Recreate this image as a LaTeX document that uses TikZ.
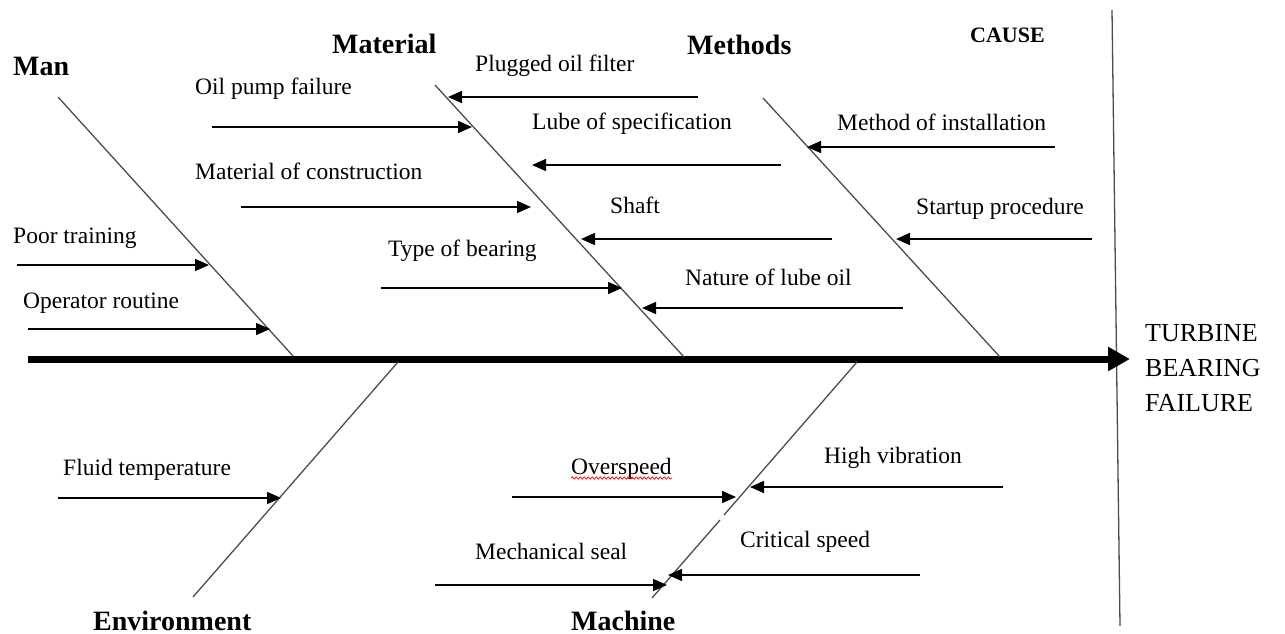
\documentclass[tikz,border=0pt]{standalone}
\usepackage{fontspec}
\setmainfont{Liberation Serif}
\usetikzlibrary{arrows.meta,decorations.pathmorphing}
\tikzset{
  lbl/.style={anchor=base west, inner sep=0pt, font=\fontsize{23.5}{28}\selectfont},
  cat/.style={anchor=base west, inner sep=0pt, font=\fontsize{28}{32}\selectfont\bfseries},
  bone/.style={line width=1.3pt, draw=black!70},
  cause/.style={line width=1.6pt, -{Triangle[length=14pt,width=12pt]}},
  spine/.style={line width=7pt, -{Triangle[length=22pt,width=23pt]}},
}
\begin{document}
\begin{tikzpicture}[x=1pt,y=-1pt]
\useasboundingbox (0,0) rectangle (1285,634);
% spine and effect divider
\coordinate (s0) at (28,359);
\coordinate (s1) at (1130,359);
\coordinate (v0) at (1112,10);
\coordinate (v1) at (1120,626);
\draw[line width=1.3pt, draw=black!70] (v0) -- (v1);
\draw[spine] (s0) -- (s1);
% effect
\node[anchor=north west, inner sep=0pt, align=left, font=\fontsize{26}{35}\selectfont] (effect) at (1145,324) {TURBINE\\BEARING\\FAILURE};
\node[anchor=base west, inner sep=0pt, font=\fontsize{22}{26}\selectfont\bfseries] (cause) at (970,43) {CAUSE};
% bones
\coordinate (manT) at (58,97);   \coordinate (manB) at (293,356);
\coordinate (matT) at (435,85);  \coordinate (matB) at (684,357);
\coordinate (metT) at (763,98);  \coordinate (metB) at (1000,357);
\coordinate (envT) at (398,362); \coordinate (envB) at (193,597);
\coordinate (macT) at (857,362); \coordinate (macB) at (652,598);
\coordinate (macG1) at (724,515); \coordinate (macG2) at (720,520);
\draw[bone] (manT) -- (manB);
\draw[bone] (matT) -- (matB);
\draw[bone] (metT) -- (metB);
\draw[bone] (envT) -- (envB);
\draw[bone] (macT) -- (macG1);
\draw[bone] (macG2) -- (macB);
% category labels
\node[cat] (man) at (13,76) {Man};
\node[cat] (material) at (332,54) {Material};
\node[cat] (methods) at (687,55) {Methods};
\node[cat] (environment) at (93,630) {Environment};
\node[cat] (machine) at (571,630) {Machine};
% Man causes
\node[lbl] (t1) at (13,243) {Poor training};
\coordinate (a1) at (17,265); \coordinate (b1) at (209,265);
\draw[cause] (a1) -- (b1);
\node[lbl] (t2) at (23,308) {Operator routine};
\coordinate (a2) at (28,329); \coordinate (b2) at (270,329);
\draw[cause] (a2) -- (b2);
% Material causes
\node[lbl] (t3) at (195,94) {Oil pump failure};
\coordinate (a3) at (212,127); \coordinate (b3) at (472,127);
\draw[cause] (a3) -- (b3);
\node[lbl] (t4) at (475,72) {Plugged oil filter};
\coordinate (a4) at (698,97); \coordinate (b4) at (448,97);
\draw[cause] (a4) -- (b4);
\node[lbl] (t5) at (532,129) {Lube of specification};
\coordinate (a5) at (781,165); \coordinate (b5) at (532,165);
\draw[cause] (a5) -- (b5);
\node[lbl] (t6) at (195,179) {Material of construction};
\coordinate (a6) at (241,207); \coordinate (b6) at (531,207);
\draw[cause] (a6) -- (b6);
\node[lbl] (t7) at (610,213) {Shaft};
\coordinate (a7) at (832,239); \coordinate (b7) at (581,239);
\draw[cause] (a7) -- (b7);
\node[lbl] (t8) at (388,256) {Type of bearing};
\coordinate (a8) at (381,288); \coordinate (b8) at (622,288);
\draw[cause] (a8) -- (b8);
\node[lbl] (t9) at (685,285) {Nature of lube oil};
\coordinate (a9) at (903,308); \coordinate (b9) at (642,308);
\draw[cause] (a9) -- (b9);
% Methods causes
\node[lbl] (t10) at (837,130) {Method of installation};
\coordinate (a10) at (1055,147); \coordinate (b10) at (807,147);
\draw[cause] (a10) -- (b10);
\node[lbl] (t11) at (916,214) {Startup procedure};
\coordinate (a11) at (1092,239); \coordinate (b11) at (896,239);
\draw[cause] (a11) -- (b11);
% Environment cause
\node[lbl] (t12) at (63,475) {Fluid temperature};
\coordinate (a12) at (58,498); \coordinate (b12) at (281,498);
\draw[cause] (a12) -- (b12);
% Machine causes
\node[lbl] (t13) at (571,474) {Overspeed};
\draw[red, line width=0.7pt, decorate, decoration={snake, amplitude=1.2pt, segment length=4pt}]
  (t13.base west) ++(0,4) coordinate (u0) -- (t13.base east |- u0);
\coordinate (a13) at (512,497); \coordinate (b13) at (736,497);
\draw[cause] (a13) -- (b13);
\node[lbl] (t14) at (824,463) {High vibration};
\coordinate (a14) at (1003,487); \coordinate (b14) at (750,487);
\draw[cause] (a14) -- (b14);
\node[lbl] (t15) at (740,547) {Critical speed};
\coordinate (a15) at (920,575); \coordinate (b15) at (668,575);
\draw[cause] (a15) -- (b15);
\node[lbl] (t16) at (475,559) {Mechanical seal};
\coordinate (a16) at (435,585); \coordinate (b16) at (667,585);
\draw[cause] (a16) -- (b16);
\end{tikzpicture}
\end{document}
